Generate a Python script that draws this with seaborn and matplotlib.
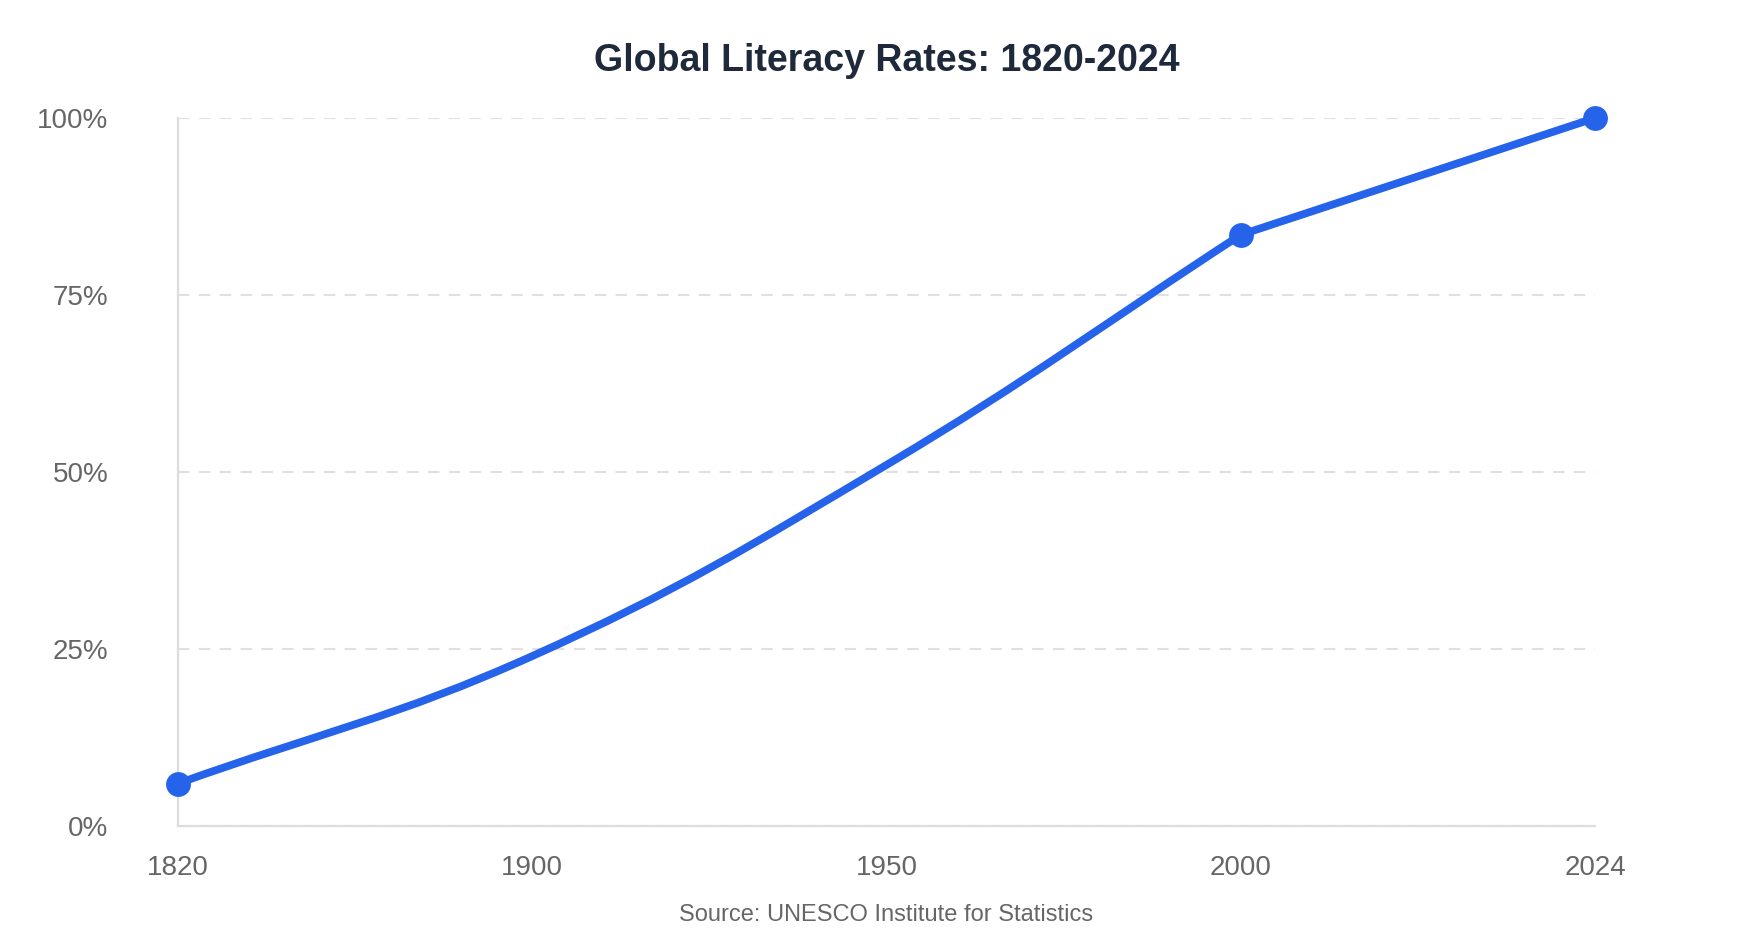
import numpy as np
import pandas as pd
import matplotlib.pyplot as plt
import seaborn as sns
from matplotlib.path import Path
from matplotlib.patches import PathPatch
from matplotlib.ticker import FuncFormatter

# data
years = ["1820", "1900", "1950", "2000", "2024"]
literacy = [6, 24, 51, 83.5, 100]
marked_years = ["1820", "2000", "2024"]
# the historic part is drawn as a smooth curve, the last step (2000-2024) as a straight segment
historic_years = ["1820", "1900", "1950", "2000"]
recent_years = ["2000", "2024"]

df = pd.DataFrame({"year": years, "rate": literacy})
df["pos"] = range(len(df))

sns.set_theme(style="white")
plt.rcParams["font.family"] = ["Liberation Sans", "DejaVu Sans"]

blue = "#2563eb"
grey_txt = "#666666"

fig = plt.figure(figsize=(17.51, 9.42), dpi=100)
ax = fig.add_axes([178 / 1751, 116 / 942, (1595 - 178) / 1751, (826 - 118) / 942])
ax.set_xlim(0, len(years) - 1)
ax.set_ylim(0, 100)


def spline_path(sub, t=0.4):
    # chart.js style bezier (tension 0.4), control points worked out in screen space
    pts = ax.transData.transform(sub[["pos", "rate"]].to_numpy(dtype=float))
    cp_in, cp_out = [], []
    for i in range(len(pts)):
        prev = pts[i - 1] if i > 0 else pts[i]
        nxt = pts[i + 1] if i < len(pts) - 1 else pts[i]
        d01 = np.hypot(*(pts[i] - prev))
        d12 = np.hypot(*(nxt - pts[i]))
        tot = d01 + d12
        s01 = d01 / tot if tot else 0
        s12 = d12 / tot if tot else 0
        cp_in.append(pts[i] - t * s01 * (nxt - prev))
        cp_out.append(pts[i] + t * s12 * (nxt - prev))
    verts = [pts[0]]
    codes = [Path.MOVETO]
    for i in range(len(pts) - 1):
        verts += [cp_out[i], cp_in[i + 1], pts[i + 1]]
        codes += [Path.CURVE4] * 3
    verts = ax.transData.inverted().transform(np.array(verts))
    return Path(verts, codes)


for part in [historic_years, recent_years]:
    sub = df[df["year"].isin(part)]
    ax.add_patch(PathPatch(spline_path(sub), fill=False, edgecolor=blue,
                           linewidth=5.6, capstyle="round", joinstyle="round", zorder=3))

sns.scatterplot(data=df[df["year"].isin(marked_years)], x="pos", y="rate", ax=ax,
                color=blue, s=320, edgecolor=blue, linewidth=0, zorder=4, clip_on=False)

ax.set_xticks(df["pos"])
ax.set_xticklabels(years)
ax.set_yticks([0, 25, 50, 75, 100])
ax.yaxis.set_major_formatter(FuncFormatter(lambda v, p: f"{v:.0f}%"))
ax.tick_params(axis="x", length=0, pad=21, labelsize=20, labelcolor=grey_txt)
ax.tick_params(axis="y", length=0, pad=50, labelsize=20, labelcolor=grey_txt)
ax.set_xlabel("")
ax.set_ylabel("")

ax.grid(axis="y", color="#e0e0e0", linestyle=(0, (5.5, 4.5)), linewidth=1.5)
ax.grid(axis="x", visible=False)
for side in ["top", "right"]:
    ax.spines[side].set_visible(False)
for side in ["left", "bottom"]:
    ax.spines[side].set_color("#dddddd")
    ax.spines[side].set_linewidth(1.6)

cx = (178 + 1595) / 2 / 1751
fig.text(cx, 1 - 61 / 942, "Global Literacy Rates: 1820-2024", ha="center", va="center",
         fontsize=27, fontweight="bold", color="#1e293b")
fig.text(cx, 1 - 915 / 942, "Source: UNESCO Institute for Statistics", ha="center", va="center",
         fontsize=17, color=grey_txt)

fig.savefig("out.png", dpi=100, facecolor="white")
